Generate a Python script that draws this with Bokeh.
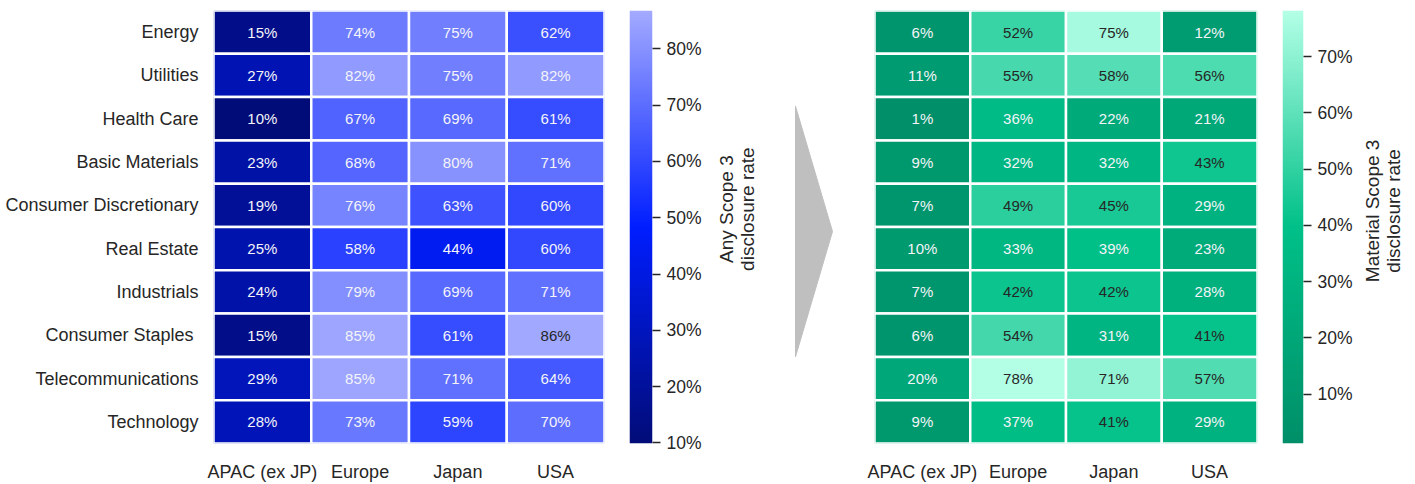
import math
import numpy as np
from bokeh.plotting import figure
from bokeh.layouts import row
from bokeh.models import (ColumnDataSource, FactorRange, Range1d, LinearColorMapper,
                          LinearAxis, SingleIntervalTicker, PrintfTickFormatter, Label)
from bokeh.core.properties import value
from bokeh.embed import file_html
from bokeh.resources import INLINE

# ---- data -----------------------------------------------------------------
sectors = ["Energy", "Utilities", "Health Care", "Basic Materials",
           "Consumer Discretionary", "Real Estate", "Industrials",
           "Consumer Staples ", "Telecommunications", "Technology"]
regions = ["APAC (ex JP)", "Europe", "Japan", "USA"]

# any Scope 3 disclosure rate (%), one list per region, in sector order
any_apac = [15, 27, 10, 23, 19, 25, 24, 15, 29, 28]
any_europe = [74, 82, 67, 68, 76, 58, 79, 85, 85, 73]
any_japan = [75, 75, 69, 80, 63, 44, 69, 61, 71, 59]
any_usa = [62, 82, 61, 71, 60, 60, 71, 86, 64, 70]

# material Scope 3 disclosure rate (%)
mat_apac = [6, 11, 1, 9, 7, 10, 7, 6, 20, 9]
mat_europe = [52, 55, 36, 32, 49, 33, 42, 54, 78, 37]
mat_japan = [75, 58, 22, 32, 45, 39, 42, 31, 71, 41]
mat_usa = [12, 56, 21, 43, 29, 23, 28, 41, 57, 29]

# colour scale limits (%)
any_limits = (9.9, 86.8)
mat_limits = (1.2, 78.2)

any_title = "Any Scope 3\ndisclosure rate"
mat_title = "Material Scope 3\ndisclosure rate"

# annotation text switches to dark above these values
any_dark_above = 85.5
mat_dark_above = 40.0

# decorative chevron between the panels (page pixels)
arrow_x = [795, 795, 832]
arrow_y = [107, 387, 247]

FONT = "Liberation Sans"
TEXT = "#262626"
H = 484


def ramp(stops, n=256):
    rgb = np.array([[int(s[i:i + 2], 16) for i in (1, 3, 5)] for s in stops], float)
    pos = np.linspace(0, 1, len(stops))
    t = np.linspace(0, 1, n)
    cols = np.stack([np.interp(t, pos, rgb[:, k]) for k in range(3)], 1)
    return ["#%02x%02x%02x" % tuple(int(round(v)) for v in c) for c in cols]


blue_map = LinearColorMapper(palette=ramp(["#020c78", "#001eff", "#a3aaff"]),
                             low=any_limits[0], high=any_limits[1])
green_map = LinearColorMapper(palette=ramp(["#008f68", "#00c088", "#b3ffe6"]),
                              low=mat_limits[0], high=mat_limits[1])


def bare(p):
    p.grid.visible = False
    p.outline_line_color = None
    return p


def heatmap(columns, mapper, dark_above, width, left, right, show_y):
    xs, ys, vals = [], [], []
    for reg, col in zip(regions, columns):
        for sec, v in zip(sectors, col):
            xs.append(reg)
            ys.append(sec)
            vals.append(v)
    src = ColumnDataSource(dict(
        region=xs, sector=ys, val=vals,
        label=[f"{v}%" for v in vals],
        tcolor=[TEXT if v > dark_above else "#f4f4f8" for v in vals],
    ))
    p = figure(width=width, height=H,
               x_range=FactorRange(*regions),
               y_range=FactorRange(*reversed(sectors)),
               output_backend="svg", toolbar_location=None,
               min_border_left=left, min_border_right=right,
               min_border_top=10, min_border_bottom=35,
               y_axis_location="left" if show_y else None)
    p.rect(x="region", y="sector", width=1, height=1, source=src,
           fill_color={"field": "val", "transform": mapper},
           line_color="white", line_width=2.5)
    p.text(x="region", y="sector", text="label", source=src,
           text_align="center", text_baseline="middle",
           text_font=value(FONT), text_font_size="15px", text_color="tcolor")
    for ax in p.axis:
        ax.axis_line_color = None
        ax.major_tick_line_color = None
        ax.minor_tick_line_color = None
        ax.major_label_text_font = FONT
        ax.major_label_text_font_size = "18px"
        ax.major_label_text_color = TEXT
    p.xaxis.major_label_standoff = 12
    if show_y:
        p.yaxis.major_label_standoff = 9
    return bare(p)


def colorbar(mapper, limits, width, left, frame_w, bottom):
    low, high = limits
    p = figure(width=width, height=H, x_range=Range1d(0, 1), y_range=Range1d(low, high),
               output_backend="svg", toolbar_location=None,
               min_border_left=left, min_border_right=width - left - frame_w,
               min_border_top=10, min_border_bottom=bottom,
               x_axis_location=None, y_axis_location=None)
    p.image(image=[np.linspace(low, high, 256).reshape(-1, 1)],
            x=0, y=low, dw=1, dh=high - low, color_mapper=mapper)
    ax = LinearAxis(ticker=SingleIntervalTicker(interval=10),
                    formatter=PrintfTickFormatter(format="%d%%"))
    ax.axis_line_color = None
    ax.major_tick_in = 0
    ax.major_tick_out = 8
    ax.major_tick_line_color = TEXT
    ax.major_tick_line_width = 1.5
    ax.minor_tick_line_color = None
    ax.major_label_standoff = 6
    ax.major_label_text_font = FONT
    ax.major_label_text_font_size = "17.5px"
    ax.major_label_text_color = TEXT
    p.add_layout(ax, "right")
    return bare(p)


def canvas_panel(x0, x1):
    # plain panel whose data space is page pixels (y downwards)
    p = figure(width=x1 - x0, height=H, x_range=Range1d(x0, x1), y_range=Range1d(H, 0),
               output_backend="svg", toolbar_location=None, min_border=0,
               x_axis_location=None, y_axis_location=None)
    return bare(p)


def bar_title(p, text, cx, cy):
    # two-line colour-bar title, rotated to read bottom to top
    p.add_layout(Label(x=cx, y=cy, text=text, angle=math.pi / 2,
                       text_align="center", text_baseline="middle",
                       text_line_height=1.0,
                       text_font=FONT, text_font_size="19px", text_color=TEXT))


left_map = heatmap([any_apac, any_europe, any_japan, any_usa], blue_map,
                   any_dark_above, width=614, left=213, right=10, show_y=True)
left_bar = colorbar(blue_map, any_limits, width=96, left=15, frame_w=23, bottom=34)

middle = canvas_panel(710, 860)
bar_title(middle, any_title, 736, 222)
middle.patch(arrow_x, arrow_y, color="#bfbfbf")

right_map = heatmap([mat_apac, mat_europe, mat_japan, mat_usa], green_map,
                    mat_dark_above, width=407, left=14, right=10, show_y=False)
right_bar = colorbar(green_map, mat_limits, width=90, left=15, frame_w=21, bottom=35)

right_title = canvas_panel(1357, 1415)
bar_title(right_title, mat_title, 1382, 224)

layout = row(left_map, left_bar, middle, right_map, right_bar, right_title, spacing=0)
open("out.html", "w").write(file_html(layout, INLINE))
